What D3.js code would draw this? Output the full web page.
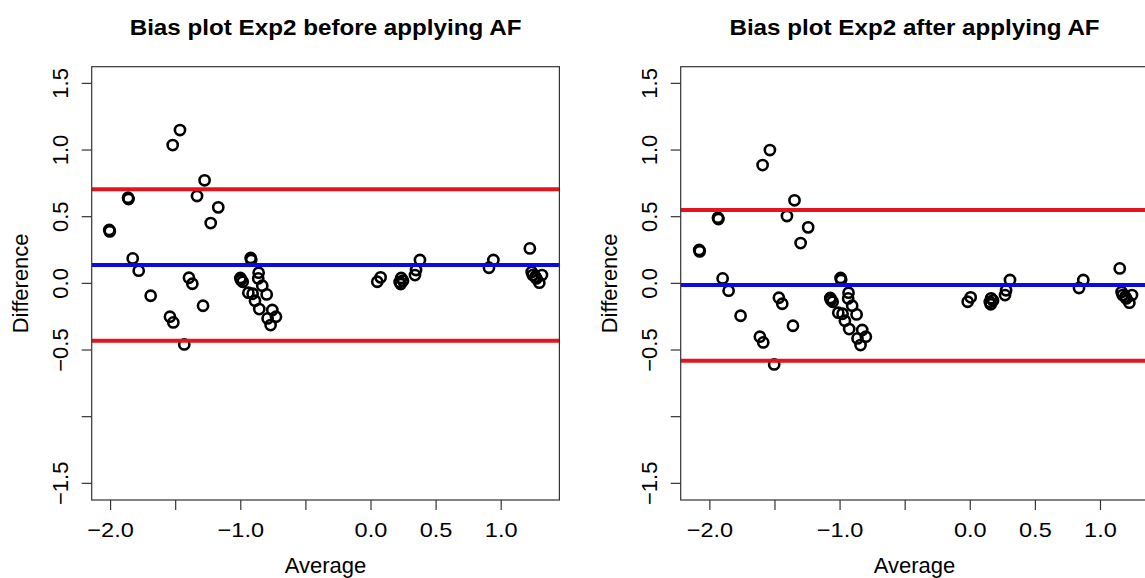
<!DOCTYPE html>
<html>
<head>
<meta charset="utf-8">
<script src="https://cdn.jsdelivr.net/npm/d3@7"></script>
<style>
  body { margin: 0; background: #fff; }
  text { font-family: "Liberation Sans", Arial, Helvetica, sans-serif; fill: #000; }
</style>
</head>
<body>
<div class="chart"></div>
<script>
var width = 1145,
    height = 578;

// Bland-Altman style data
var beforeAvg = [-2.010, -2.006, -1.866, -1.862, -1.830, -1.784, -1.692, -1.544, -1.518, -1.523,
                 -1.467, -1.434, -1.398, -1.372, -1.336, -1.278, -1.290, -1.231, -1.173,
                 -1.003, -0.999, -0.985, -0.924, -0.920, -0.942, -0.909, -0.863, -0.866, -0.835,
                 -0.891, -0.801, -0.858, -0.758, -0.794, -0.730, -0.771,
                 0.048, 0.074, 0.220, 0.232, 0.228, 0.246, 0.338, 0.346, 0.376, 0.906, 0.940,
                 1.220, 1.234, 1.242, 1.262, 1.270, 1.293, 1.313];
var beforeDiff = [0.400, 0.390, 0.642, 0.632, 0.187, 0.095, -0.093, -0.250, -0.293, 1.037,
                  1.150, -0.458, 0.042, -0.003, 0.655, 0.773, -0.168, 0.452, 0.570,
                  0.040, 0.025, 0.012, 0.190, 0.175, -0.070, -0.078, 0.080, 0.037, -0.018,
                  -0.130, -0.083, -0.193, -0.200, -0.263, -0.250, -0.313,
                  0.012, 0.045, 0.010, 0.040, -0.005, 0.020, 0.062, 0.100, 0.175, 0.117, 0.175,
                  0.262, 0.085, 0.062, 0.050, 0.037, 0.005, 0.062];
var beforeLines = [0.705, 0.137, -0.430];   // upper limit, mean, lower limit

var afterAvg = [-2.082, -2.078, -1.938, -1.934, -1.902, -1.856, -1.764, -1.616, -1.590, -1.595,
                -1.539, -1.506, -1.470, -1.444, -1.408, -1.350, -1.362, -1.303, -1.245,
                -1.075, -1.071, -1.057, -0.996, -0.992, -1.014, -0.981, -0.935, -0.938, -0.907,
                -0.963, -0.873, -0.930, -0.830, -0.866, -0.802, -0.843,
                -0.020, 0.003, 0.150, 0.160, 0.157, 0.175, 0.267, 0.275, 0.305, 0.835, 0.868,
                1.148, 1.162, 1.170, 1.190, 1.198, 1.222, 1.242];
var afterDiff = [0.250, 0.240, 0.492, 0.482, 0.037, -0.055, -0.243, -0.400, -0.443, 0.887,
                 1.000, -0.608, -0.108, -0.153, 0.505, 0.623, -0.318, 0.302, 0.420,
                 -0.110, -0.125, -0.138, 0.040, 0.025, -0.220, -0.228, -0.070, -0.113, -0.168,
                 -0.280, -0.233, -0.343, -0.350, -0.413, -0.400, -0.463,
                 -0.138, -0.105, -0.140, -0.112, -0.157, -0.128, -0.088, -0.052, 0.025, -0.035, 0.025,
                 0.112, -0.065, -0.088, -0.100, -0.113, -0.145, -0.088];
var afterLines = [0.550, -0.013, -0.580];

var xTicks = [-2.0, -1.5, -1.0, -0.5, 0.0, 0.5, 1.0];
var xTickLabels = ["-2.0", "", "-1.0", "", "0.0", "0.5", "1.0"];
var yTicks = [-1.5, -1.0, -0.5, 0.0, 0.5, 1.0, 1.5];
var yTickLabels = ["-1.5", "", "-0.5", "0.0", "0.5", "1.0", "1.5"];
var lineColors = ["#e3141b", "#0a0ae6", "#e3141b"];

var svg = d3.select("div.chart").append("svg")
    .attr("width", width)
    .attr("height", height);

var plotTop = 66.7, plotBottom = 500, plotW = 467.7;

var y = d3.scaleLinear().domain([-1.625, 1.625]).range([plotBottom, plotTop]);

// R output looks a bit wider than tall, so stretch some text sideways
function widen(sel, k) {
    sel.each(function() {
        var len = this.getComputedTextLength();
        if (len > 0) {
            d3.select(this).attr("textLength", len * k).attr("lengthAdjust", "spacingAndGlyphs");
        }
    });
}

function minus(s) { return s.replace("-", "\u2212"); }

function drawPanel(left, xDomain, avg, diff, lines, title) {
    var x = d3.scaleLinear().domain(xDomain).range([left, left + plotW]);
    var g = svg.append("g");

    g.append("clipPath").attr("id", "clip" + Math.round(left))
      .append("rect")
        .attr("x", left).attr("y", plotTop)
        .attr("width", plotW).attr("height", plotBottom - plotTop);

    var plot = g.append("g").attr("clip-path", "url(#clip" + Math.round(left) + ")");

    plot.selectAll("circle.pt")
        .data(d3.range(avg.length))
      .enter().append("circle")
        .attr("class", "pt")
        .attr("cx", function(i) { return x(avg[i]); })
        .attr("cy", function(i) { return y(diff[i]); })
        .attr("r", 5.1)
        .attr("fill", "none")
        .attr("stroke", "#000")
        .attr("stroke-width", 2.6);

    plot.selectAll("line.ref")
        .data(lines)
      .enter().append("line")
        .attr("class", "ref")
        .attr("x1", left).attr("x2", left + plotW)
        .attr("y1", function(d) { return y(d); })
        .attr("y2", function(d) { return y(d); })
        .attr("stroke", function(d, i) { return lineColors[i]; })
        .attr("stroke-width", 4);

    g.append("rect")
        .attr("x", left).attr("y", plotTop)
        .attr("width", plotW).attr("height", plotBottom - plotTop)
        .attr("fill", "none")
        .attr("stroke", "#333")
        .attr("stroke-width", 1.2);

    // x axis ticks and labels
    g.selectAll("line.xt")
        .data(xTicks)
      .enter().append("line")
        .attr("class", "xt")
        .attr("x1", function(d) { return x(d); })
        .attr("x2", function(d) { return x(d); })
        .attr("y1", plotBottom).attr("y2", plotBottom + 10)
        .attr("stroke", "#333").attr("stroke-width", 1.2);

    var xl = g.selectAll("text.xl")
        .data(xTicks)
      .enter().append("text")
        .attr("class", "xl")
        .attr("x", function(d) { return x(d); })
        .attr("y", 537)
        .style("text-anchor", "middle")
        .style("font-size", "21px")
        .text(function(d, i) { return minus(xTickLabels[i]); });
    widen(xl, 1.12);

    // y axis ticks and labels
    g.selectAll("line.yt")
        .data(yTicks)
      .enter().append("line")
        .attr("class", "yt")
        .attr("x1", left - 10).attr("x2", left)
        .attr("y1", function(d) { return y(d); })
        .attr("y2", function(d) { return y(d); })
        .attr("stroke", "#333").attr("stroke-width", 1.2);

    g.selectAll("text.yl")
        .data(yTicks)
      .enter().append("text")
        .attr("class", "yl")
        .attr("transform", function(d) { return "translate(" + (left - 23.5) + "," + y(d) + ") rotate(-90)"; })
        .style("text-anchor", "middle")
        .style("font-size", "22px")
        .text(function(d, i) { return minus(yTickLabels[i]); });

    g.append("text")
        .attr("x", left + plotW / 2)
        .attr("y", 573)
        .style("text-anchor", "middle")
        .style("font-size", "22px")
        .text("Average");

    g.append("text")
        .attr("transform", "translate(" + (left - 63.6) + "," + (plotTop + plotBottom) / 2 + ") rotate(-90)")
        .style("text-anchor", "middle")
        .style("font-size", "22px")
        .text("Difference");

    var t = g.append("text")
        .attr("x", left + plotW / 2)
        .attr("y", 35)
        .style("text-anchor", "middle")
        .style("font-size", "22px")
        .style("font-weight", "bold")
        .text(title);
    widen(t, 1.1);
}

drawPanel(91.7, [-2.145, 1.447], beforeAvg, beforeDiff, beforeLines, "Bias plot Exp2 before applying AF");
drawPanel(680.7, [-2.224, 1.368], afterAvg, afterDiff, afterLines, "Bias plot Exp2 after applying AF");
</script>
</body>
</html>
